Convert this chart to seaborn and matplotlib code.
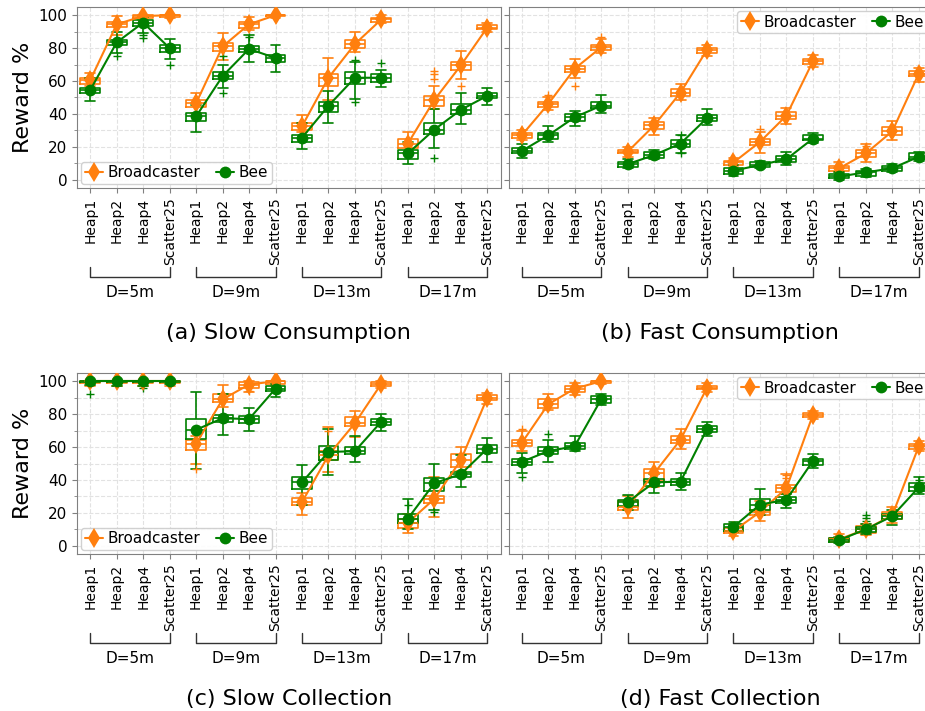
import numpy as np
import pandas as pd
import seaborn as sns
import matplotlib.pyplot as plt
from matplotlib.lines import Line2D
from matplotlib.ticker import MultipleLocator

# ---------------------------------------------------------
# data: each box = (low whisker, q1, mean/median, q3, high whisker)
# order: D=5m, D=9m, D=13m, D=17m  x  Heap1, Heap2, Heap4, Scatter25
# ---------------------------------------------------------
envs = ["Heap1", "Heap2", "Heap4", "Scatter25"]
dists = ["D=5m", "D=9m", "D=13m", "D=17m"]
series = ["Broadcaster", "Bee"]
titles = ["(a) Slow Consumption", "(b) Fast Consumption",
          "(c) Slow Collection", "(d) Fast Collection"]

slow_cons_bc = [(57, 58, 60.5, 62, 65), (88, 93, 94.5, 96, 99.5), (97, 98.5, 99.5, 100, 100), (98.5, 99, 100, 100, 100),
                (40.5, 44, 46.5, 48.5, 53), (72.5, 78, 81, 83, 89), (91, 92.5, 94.5, 96, 99), (98.5, 99.5, 100, 100, 100),
                (29, 30.5, 32.5, 34.5, 39.5), (48.5, 57, 62, 64.5, 74), (77.5, 80, 82.5, 85, 90), (95, 96, 97.5, 98.5, 100),
                (16, 19.5, 22, 24.5, 29), (43, 45, 48.5, 51, 57), (61.5, 66.5, 69.5, 71.5, 78), (90, 91.5, 92.5, 94, 95.5)]
slow_cons_bee = [(48, 52.5, 54.5, 56, 62), (77, 82, 83.5, 85, 90), (89, 93.5, 95.5, 97, 99), (73.5, 77.5, 80, 82, 85.5),
                 (29, 35.5, 38.5, 40.5, 45.5), (55.5, 61, 63, 65.5, 69.5), (71.5, 77.5, 79.5, 81, 88), (65.5, 71.5, 74, 76, 82),
                 (19, 23, 25.5, 27.5, 34.5), (34.5, 41, 45, 47.5, 54), (49, 58.5, 62, 65.5, 71.5), (56.5, 59.5, 62, 64, 67),
                 (9.5, 12.5, 16, 18, 23), (19.5, 28, 30.5, 34.5, 43), (34, 40, 42.5, 46, 52.5), (45.5, 49.5, 51, 52.5, 55.5)]

fast_cons_bc = [(24, 25.5, 27, 28.5, 30), (42.5, 44, 46, 47.5, 50.5), (62, 65.5, 67.5, 69, 73.5), (77, 79, 80.5, 82, 85.5),
                (14, 16, 17, 18, 20), (27.5, 31, 33, 35, 37.5), (48.5, 51, 53, 55, 58), (75, 77, 79, 80, 82),
                (8, 9, 10.5, 11.5, 13.5), (16, 21, 23, 24.5, 29), (34, 37, 39, 41, 43.5), (68.5, 70.5, 72, 73.5, 76),
                (5, 5.5, 7, 8.5, 10.5), (11, 14, 16, 18, 22), (24, 27, 29.5, 32, 35.5), (59.5, 63, 64.5, 66, 68)]
fast_cons_bee = [(13.5, 16, 17.5, 19.5, 21.5), (23, 25, 27, 28.5, 32.5), (32.5, 36, 38, 40, 42), (40.5, 43.5, 45, 47, 51.5),
                 (7, 8, 9.5, 11, 12.5), (12.5, 13.5, 15, 17, 18), (16.5, 20, 22, 24, 27), (33.5, 36, 37.5, 39.5, 43),
                 (2.5, 3.5, 5.5, 7, 9), (7, 7.5, 9, 10.5, 11.5), (9, 11, 12.5, 14.5, 17), (22.5, 24, 25, 27, 28.5),
                 (0, 1, 2, 3.5, 4.5), (1.5, 2.5, 4.5, 5.5, 6.5), (4.5, 5.5, 7, 8.5, 9.5), (11.5, 12.5, 14, 16, 17)]

slow_coll_bc = [(97, 99, 100, 100, 100), (97, 99, 100, 100, 100), (97, 99, 100, 100, 100), (97, 99, 100, 100, 100),
                (50, 58.5, 62, 64, 67), (84.5, 87.5, 89, 92, 97.5), (93.5, 96, 98, 99.5, 100), (97, 98.5, 100, 100, 100),
                (19, 24.5, 26.5, 29, 32), (45, 52, 55, 57.5, 72), (66, 72.5, 74.5, 78.5, 82), (96, 97, 98.5, 99.5, 100),
                (7.5, 10.5, 14, 16, 19.5), (17.5, 26, 28.5, 30.5, 41.5), (45.5, 48, 52, 55.5, 60), (86, 88.5, 90, 91.5, 93)]
slow_coll_bee = [(97.5, 99.5, 100, 100, 100), (97, 99.5, 100, 100, 100), (97, 99.5, 100, 100, 100), (98.5, 99.5, 100, 100, 100),
                 (46.5, 65, 70.5, 77, 93.5), (67.5, 75, 77.5, 79.5, 92), (69.5, 74.5, 77, 79, 83.5), (90.5, 94, 95.5, 97, 98.5),
                 (24.5, 34.5, 38.5, 41.5, 49), (43, 52, 57, 60.5, 71), (51, 55.5, 57.5, 60, 66.5), (69.5, 73.5, 75.5, 77, 80),
                 (10, 14, 16.5, 19.5, 28.5), (21.5, 33, 38, 41, 50), (36, 41.5, 43.5, 45, 55), (51, 56.5, 59, 61, 65.5)]

fast_coll_bc = [(57.5, 60.5, 62.5, 64.5, 70), (82.5, 84, 86, 89.5, 92.5), (91.5, 93.5, 95.5, 97, 99), (98.5, 99, 100, 100, 100),
                (17, 21.5, 23.5, 27, 30.5), (35.5, 39.5, 44, 46.5, 51), (59, 62.5, 64.5, 67, 71), (93.5, 95, 96, 97, 99),
                (6, 8, 9, 11, 13), (15, 18.5, 20.5, 22, 27.5), (31.5, 32.5, 35, 37, 43.5), (77, 78.5, 79.5, 80.5, 82),
                (2, 2.5, 4, 5, 7), (6.5, 8, 10, 12, 13), (14, 16.5, 18.5, 20.5, 23.5), (57.5, 59, 60.5, 62, 63.5)]
fast_coll_bee = [(44.5, 49, 51, 53, 56.5), (51, 55.5, 57.5, 60, 64), (57.5, 59, 60.5, 62.5, 66.5), (85.5, 87, 89, 91, 92),
                 (22, 24, 26.5, 28, 31), (32, 36.5, 38.5, 40.5, 43.5), (34, 37, 39, 40.5, 44), (66.5, 69, 71, 73, 75),
                 (8.5, 9, 11.5, 13, 14.5), (18.5, 21.5, 25, 28.5, 34.5), (23, 26, 28, 29.5, 31.5), (47, 49, 51.5, 53, 55.5),
                 (1.5, 2, 3.5, 4.5, 5.5), (7, 8.5, 10, 11.5, 13), (12.5, 16.5, 18, 19.5, 22), (31.5, 33.5, 35.5, 38, 41.5)]

# outliers (box index, value)
slow_cons_bc_fl = [(13, 61), (13, 64), (13, 66), (14, 57)]
slow_cons_bee_fl = [(1, 75), (2, 86), (2, 88), (3, 70), (5, 53), (5, 75), (6, 87), (10, 47.5), (10, 73), (11, 71), (13, 13)]
fast_cons_bc_fl = [(1, 51.5), (2, 57), (3, 86.5), (9, 31), (13, 20.5)]
fast_cons_bee_fl = [(6, 27.5), (6, 16)]
slow_coll_bc_fl = [(4, 46.5), (6, 94), (9, 70)]
slow_coll_bee_fl = [(0, 92.5), (2, 96), (12, 25), (13, 20.5)]
fast_coll_bc_fl = [(0, 71), (10, 41), (10, 43)]
fast_coll_bee_fl = [(0, 41.5), (1, 68), (13, 15), (13, 17), (13, 19), (15, 40)]

panels = [
    (titles[0], slow_cons_bc, slow_cons_bee, slow_cons_bc_fl, slow_cons_bee_fl),
    (titles[1], fast_cons_bc, fast_cons_bee, fast_cons_bc_fl, fast_cons_bee_fl),
    (titles[2], slow_coll_bc, slow_coll_bee, slow_coll_bc_fl, slow_coll_bee_fl),
    (titles[3], fast_coll_bc, fast_coll_bee, fast_coll_bc_fl, fast_coll_bee_fl),
]

pal = {"Broadcaster": "#ff7f0e", "Bee": "#008000"}
marks = {"Broadcaster": "d", "Bee": "o"}
msize = {"Broadcaster": 10, "Bee": 8.5}

sns.set_style("whitegrid", rc={
    "axes.edgecolor": "#808080",
    "grid.color": "#e2e2e2",
    "grid.linestyle": "--",
    "grid.linewidth": 0.7,
    "xtick.bottom": True,
    "ytick.left": True,
    "xtick.color": "#808080",
    "ytick.color": "#808080",
    "text.color": "black",
    "axes.labelcolor": "black",
})
plt.rcParams["font.family"] = ["DejaVu Sans"]

fig = plt.figure(figsize=(9.25, 7.11), dpi=100)
W, H = 925, 711
ax_w, ax_h = 423.5, 181
lefts = [77, 508.5, 77, 508.5]
tops = [7, 7, 373, 373]

for k, (title, bc, bee, bc_fl, bee_fl) in enumerate(panels):
    ax = fig.add_axes([lefts[k] / W, (H - tops[k] - ax_h) / H, ax_w / W, ax_h / H])

    rows = []
    for name, boxes in zip(series, [bc, bee]):
        for i, box in enumerate(boxes):
            for v in box:
                rows.append({"pos": i, "series": name, "val": v})
    df = pd.DataFrame(rows)

    sns.boxplot(data=df, x="pos", y="val", hue="series", hue_order=series, order=list(range(16)),
                dodge=False, fill=False, whis=(0, 100), showfliers=False, width=0.75,
                palette=pal, linewidth=1.2, legend=False, ax=ax)

    means = pd.DataFrame([{"pos": i, "series": name, "val": box[2], "group": i // 4}
                          for name, boxes in zip(series, [bc, bee]) for i, box in enumerate(boxes)])
    for name in series:
        sub = means[means["series"] == name]
        sns.lineplot(data=sub, x="pos", y="val", units="group", estimator=None,
                     color=pal[name], marker=marks[name], markersize=msize[name],
                     markeredgewidth=0, linewidth=1.5, legend=False, ax=ax, zorder=5)

    for name, fl in zip(series, [bc_fl, bee_fl]):
        if fl:
            ax.scatter([p for p, _ in fl], [v for _, v in fl], marker="+", color=pal[name],
                       s=30, linewidths=1.0, zorder=4)

    ax.set_xlim(-0.5, 15.5)
    ax.set_ylim(-5, 105)
    ax.set_xticks(range(16))
    ax.set_xticklabels(envs * 4, rotation=90, fontsize=10)
    ax.yaxis.set_major_locator(MultipleLocator(20))
    ax.yaxis.set_minor_locator(MultipleLocator(10))
    ax.tick_params(axis="y", which="major", length=3.5, labelsize=11, labelcolor="black")
    ax.tick_params(axis="y", which="minor", length=2)
    ax.tick_params(axis="x", length=3.5, labelcolor="black")
    ax.grid(True, which="both", axis="y")
    ax.grid(True, which="major", axis="x")
    ax.set_xlabel("")
    if k % 2 == 0:
        ax.set_ylabel("Reward %", fontsize=16)
    else:
        ax.set_ylabel("")
        ax.tick_params(axis="y", labelleft=False)

    trans = ax.get_xaxis_transform()
    for g in range(4):
        x0, x1 = 4 * g, 4 * g + 3
        ax.plot([x0, x0, x1, x1], [-0.436, -0.492, -0.492, -0.436], transform=trans,
                clip_on=False, color="#333333", lw=1)
        ax.text((x0 + x1) / 2, -0.575, dists[g], transform=trans, ha="center", va="center", fontsize=11)
    ax.text(0.5, -0.80, title, transform=ax.transAxes, ha="center", va="center", fontsize=16)

    handles = [Line2D([], [], color=pal[n], marker=marks[n], markersize=msize[n],
                      markeredgewidth=0, lw=1.5) for n in series]
    ax.legend(handles, series, loc="lower left" if k % 2 == 0 else "upper right", ncol=2,
              fontsize=11, handlelength=1.2, handletextpad=0.3, columnspacing=1.0,
              borderpad=0.25, borderaxespad=0.25, framealpha=0.9, edgecolor="#cccccc")

fig.savefig("out.png", dpi=100)
